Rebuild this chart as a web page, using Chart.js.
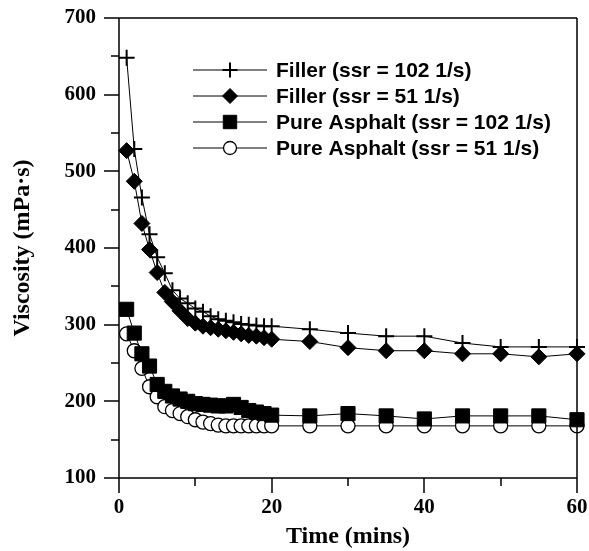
<!DOCTYPE html>
<html><head><meta charset="utf-8">
<script src="https://cdn.jsdelivr.net/npm/chart.js@4/dist/chart.umd.min.js"></script>
<style>html,body{margin:0;padding:0;background:#fff}#wrap{width:589px;height:551px}</style>
</head><body><div id="wrap"><canvas id="c" width="589" height="551"></canvas></div>
<script>
const time = [1,2,3,4,5,6,7,8,9,10,11,12,13,14,15,16,17,18,19,20,25,30,35,40,45,50,55,60];
const filler102 = [648,529,466,418,388,367,345,334,328,321,317,311,307,305,303,301,300,299,298,298,294,289,285,285,276,271,271,271];
const filler51 = [527,487,432,398,368,342,330,318,308,302,298,296,294,292,290,288,286,285,283,281,278,270,266,266,262,262,258,262];
const pure102 = [320,289,262,246,222,213,207,203,200,197,196,195,194,194,196,192,188,186,184,182,181,184,181,177,181,181,181,176];
const pure51 = [288,266,243,219,206,193,188,184,180,176,173,171,169,168,168,168,168,168,168,168,168,168,168,168,168,168,168,168];
const seriesNames = ['Filler (ssr = 102 1/s)','Filler (ssr = 51 1/s)','Pure Asphalt (ssr = 102 1/s)','Pure Asphalt (ssr = 51 1/s)'];
const xTicks = [0,20,40,60];
const yTicks = [100,200,300,400,500,600,700];

const toXY = arr => arr.map((v,i)=>({x:time[i], y:v}));
const styles = [
  {pointStyle:'cross', pointRadius:8, backgroundColor:'#000', borderColor:'#000', pointBorderWidth:2, order:1},
  {pointStyle:'rectRot', pointRadius:8, backgroundColor:'#000', borderColor:'#000', pointBorderWidth:1, order:2},
  {pointStyle:'rect', pointRadius:10, backgroundColor:'#000', borderColor:'#000', pointBorderWidth:1, order:3},
  {pointStyle:'circle', pointRadius:7, backgroundColor:'#fff', borderColor:'#000', pointBorderWidth:1.3, order:4}
];
const dataArr = [filler102, filler51, pure102, pure51];
const datasets = dataArr.map((d,i)=>Object.assign({
  label: seriesNames[i], data: toXY(d), borderWidth:1, showLine:true, clip:false,
  pointBackgroundColor: styles[i].backgroundColor, pointBorderColor:'#000'
}, styles[i]));

const frameAndLegend = {
  id:'frameAndLegend',
  afterDraw(chart){
    const ctx = chart.ctx, a = chart.chartArea, xs = chart.scales.x, ys = chart.scales.y;
    ctx.save();
    ctx.strokeStyle='#000'; ctx.lineWidth=1.5;
    ctx.beginPath();
    ctx.moveTo(a.left, a.top); ctx.lineTo(a.right, a.top);
    ctx.moveTo(a.right, a.top); ctx.lineTo(a.right, a.bottom);
    ctx.moveTo(a.left, a.top); ctx.lineTo(a.left, a.bottom); ctx.lineTo(a.right, a.bottom);
    yTicks.forEach(v=>{const p=Math.round(ys.getPixelForValue(v)); ctx.moveTo(a.left-15,p); ctx.lineTo(a.left,p);});
    xTicks.forEach(v=>{const p=Math.round(xs.getPixelForValue(v)); ctx.moveTo(p,a.bottom); ctx.lineTo(p,a.bottom+15);});
    yTicks.slice(0,-1).forEach(v=>{const p=Math.round(ys.getPixelForValue(v+50)); ctx.moveTo(a.left-8,p); ctx.lineTo(a.left,p);});
    xTicks.slice(0,-1).forEach(v=>{const p=Math.round(xs.getPixelForValue(v+10)); ctx.moveTo(p,a.bottom); ctx.lineTo(p,a.bottom+8);});
    ctx.stroke();
    chart.data.datasets.forEach((ds,i)=>{
      const y = 70 + 26*i;
      ctx.strokeStyle='#000'; ctx.lineWidth=1;
      ctx.beginPath(); ctx.moveTo(193,y); ctx.lineTo(267,y); ctx.stroke();
      ctx.fillStyle = ds.backgroundColor; ctx.strokeStyle='#000'; ctx.lineWidth = ds.pointBorderWidth;
      Chart.helpers.drawPoint(ctx, {pointStyle:ds.pointStyle, radius:ds.pointRadius-0.5, borderWidth:ds.pointBorderWidth}, 230, y);
      ctx.fillStyle='#000'; ctx.font='bold 21px "Liberation Sans", Arial, sans-serif';
      ctx.textBaseline='middle'; ctx.textAlign='left';
      ctx.fillText(ds.label, 276, y+1);
    });
    ctx.restore();
  }
};

new Chart(document.getElementById('c'), {
  type:'scatter',
  data:{datasets},
  options:{
    responsive:false, animation:false, devicePixelRatio:1,
    layout:{padding:{left:0, top:18, right:12, bottom:0}},
    plugins:{legend:{display:false}, tooltip:{enabled:false}},
    elements:{line:{borderColor:'#000', tension:0}},
    scales:{
      x:{type:'linear', min:0, max:60,
        afterFit(s){s.height=73; s.paddingRight=0; s.paddingLeft=0;},
        afterBuildTicks(s){s.ticks = xTicks.map(v=>({value:v}));},
        border:{display:false},
        grid:{display:true, drawOnChartArea:false, drawTicks:true, tickLength:15, color:'rgba(0,0,0,0)'},
        ticks:{color:'#000', padding:2, font:{family:'"Liberation Serif", "Times New Roman", serif', weight:'bold', size:21}, maxRotation:0},
        title:{display:true, text:'Time (mins)', color:'#000', padding:{top:0,bottom:0}, font:{family:'"Liberation Serif", "Times New Roman", serif', weight:'bold', size:24}}
      },
      y:{type:'linear', min:100, max:700,
        afterFit(s){s.width=119; s.paddingTop=0; s.paddingBottom=0;},
        afterBuildTicks(s){s.ticks = yTicks.map(v=>({value:v}));},
        border:{display:false},
        grid:{display:true, drawOnChartArea:false, drawTicks:true, tickLength:15, color:'rgba(0,0,0,0)'},
        ticks:{color:'#000', padding:8, font:{family:'"Liberation Serif", "Times New Roman", serif', weight:'bold', size:21}},
        title:{display:true, text:'Viscosity (mPa\u00b7s)', color:'#000', padding:{top:8,bottom:0}, font:{family:'"Liberation Serif", "Times New Roman", serif', weight:'bold', size:24}}
      }
    }
  },
  plugins:[frameAndLegend]
});
</script></body></html>
